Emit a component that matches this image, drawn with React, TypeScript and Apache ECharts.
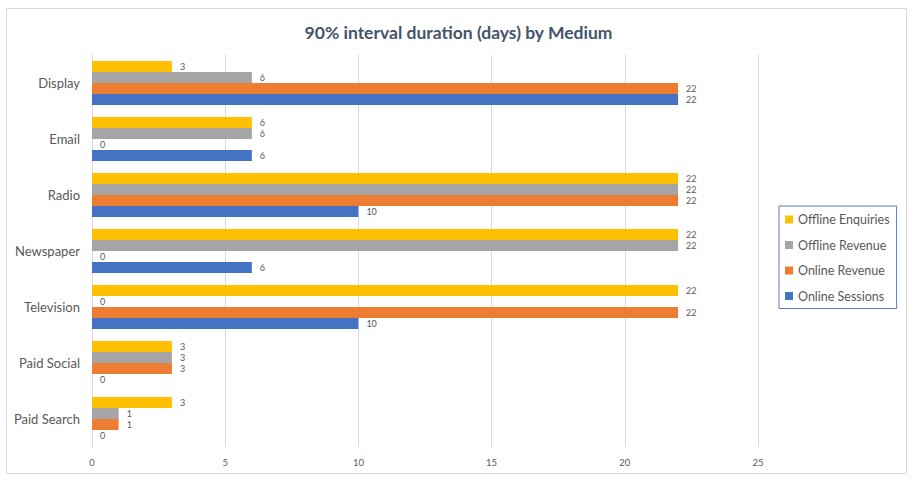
import React, { useEffect, useRef } from "react";
import * as echarts from "echarts";

const categories = ["Display", "Email", "Radio", "Newspaper", "Television", "Paid Social", "Paid Search"];
const offlineEnquiries = [3, 6, 22, 22, 22, 3, 3];
const offlineRevenue = [6, 6, 22, 22, 0, 3, 1];
const onlineRevenue = [22, 0, 22, 0, 22, 3, 1];
const onlineSessions = [22, 6, 10, 6, 10, 0, 0];
const xTicks = [0, 5, 10, 15, 20, 25];

const seriesDefs = [
  { name: "Offline Enquiries", data: offlineEnquiries, color: "#FFC000" },
  { name: "Offline Revenue", data: offlineRevenue, color: "#A5A5A5" },
  { name: "Online Revenue", data: onlineRevenue, color: "#ED7D31" },
  { name: "Online Sessions", data: onlineSessions, color: "#4472C4" },
];

const FONT = "Lato";

export default function App() {
  const ref = useRef<HTMLDivElement>(null);
  useEffect(() => {
    if (!ref.current) return;
    const chart = echarts.init(ref.current, undefined, { renderer: "svg" });
    chart.setOption({
      animation: false,
      textStyle: { fontFamily: FONT },
      title: {
        text: "90% interval duration (days) by Medium",
        left: "center",
        top: 18,
        textStyle: { fontSize: 17.5, fontWeight: "bold", color: "#44546A", fontFamily: FONT },
      },
      graphic: [
        {
          type: "rect",
          shape: { x: 6.5, y: 8.5, width: 900, height: 465 },
          style: { fill: "none", stroke: "#d9d9d9", lineWidth: 1 },
          silent: true,
        },
      ],
      legend: {
        orient: "vertical",
        left: 779,
        top: 206,
        padding: [7, 7, 6, 6],
        itemGap: 12.5,
        itemWidth: 8,
        itemHeight: 8,
        icon: "rect",
        borderColor: "#5b7fc0",
        borderWidth: 1,
        textStyle: { fontSize: 12.5, color: "#595959", fontFamily: FONT },
        data: seriesDefs.map((s) => s.name),
      },
      grid: { left: 92, right: 159, top: 55, bottom: 41, containLabel: false },
      xAxis: {
        type: "value",
        min: xTicks[0],
        max: xTicks[xTicks.length - 1],
        interval: 5,
        axisLine: { show: false },
        axisTick: { show: false },
        axisLabel: { fontSize: 9.5, color: "#595959", margin: 10, fontFamily: FONT },
        splitLine: { lineStyle: { color: "#d9d9d9", width: 1 } },
      },
      yAxis: {
        type: "category",
        data: categories,
        inverse: true,
        axisLine: { show: true, lineStyle: { color: "#d9d9d9" } },
        axisTick: { show: false },
        axisLabel: { fontSize: 13, color: "#595959", margin: 12, fontFamily: FONT },
      },
      series: seriesDefs.map((s) => ({
        name: s.name,
        type: "bar",
        data: s.data,
        barWidth: 11,
        barGap: "0%",
        itemStyle: { color: s.color },
        label: {
          show: true,
          position: "right",
          distance: 8,
          fontSize: 9,
          color: "#595959",
          fontFamily: FONT,
        },
      })),
    });
    return () => chart.dispose();
  }, []);
  return <div ref={ref} style={{ width: 917, height: 488, position: "absolute", left: 0, top: 0 }} />;
}
